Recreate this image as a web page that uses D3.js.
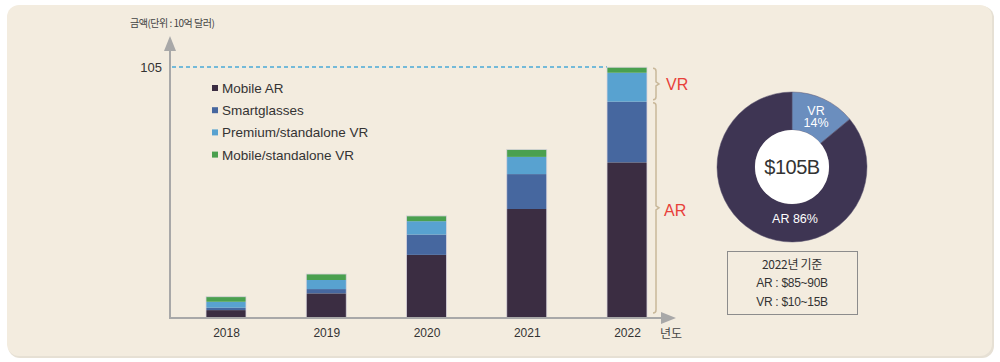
<!DOCTYPE html>
<html>
<head>
<meta charset="utf-8">
<script src="https://cdn.jsdelivr.net/npm/d3@7"></script>
<style>
  body { margin: 0; background: #ffffff; }
  text { font-family: "Liberation Sans", Arial, "Noto Sans CJK KR", sans-serif; }
  .kr { font-family: "Noto Sans CJK KR", "Liberation Sans", sans-serif; }
</style>
</head>
<body>
<div id="vis"></div>
<script>
// data (billions of dollars)
const years = ["2018", "2019", "2020", "2021", "2022"];
const mobileAR = [3.3, 10.3, 26.4, 45.6, 65.1];
const smartglasses = [1.0, 1.8, 8.5, 14.6, 25.4];
const premiumVR = [2.5, 3.8, 5.6, 7.2, 12.1];
const mobileVR = [2.1, 2.5, 2.2, 3.1, 2.3];
const seriesNames = ["Mobile AR", "Smartglasses", "Premium/standalone VR", "Mobile/standalone VR"];
const seriesColors = ["#3b2d42", "#46679f", "#58a2d0", "#4aa04f"];
const topTick = 105;

const pieLabels = ["VR", "AR"];
const pieShares = [14, 86];
const pieColors = ["#6b8ebe", "#3e3553"];
const noteLines = ["2022년 기준", "AR : $85~90B", "VR : $10~15B"];

const W = 1000, H = 362;
const svg = d3.select("#vis").append("svg").attr("width", W).attr("height", H);

// panel
svg.append("rect").attr("x", 8).attr("y", 6).attr("width", 986).attr("height", 352)
  .attr("rx", 12).attr("fill", "#e6e0d4");
svg.append("rect").attr("x", 7).attr("y", 5).attr("width", 985).attr("height", 351)
  .attr("rx", 12).attr("fill", "#f3ecdf");

const rows = years.map((y, i) => ({
  year: y,
  "Mobile AR": mobileAR[i],
  "Smartglasses": smartglasses[i],
  "Premium/standalone VR": premiumVR[i],
  "Mobile/standalone VR": mobileVR[i]
}));
const stacked = d3.stack().keys(seriesNames)(rows);

const x = d3.scalePoint().domain(years).range([226, 627]);
const y = d3.scaleLinear().domain([0, topTick]).range([318, 67]);
const color = d3.scaleOrdinal().domain(seriesNames).range(seriesColors);
const barW = 40;

// dashed guide at 105
svg.append("line")
  .attr("x1", 172).attr("x2", x("2022") - barW / 2)
  .attr("y1", y(topTick)).attr("y2", y(topTick))
  .attr("stroke", "#4aa9d8").attr("stroke-width", 1.5).attr("stroke-dasharray", "4,3");

svg.append("text").attr("x", 162).attr("y", y(topTick) + 4.5)
  .attr("text-anchor", "end").attr("font-size", 13).attr("fill", "#333").text(topTick);

// bars
svg.append("g").selectAll("g")
  .data(stacked)
  .enter().append("g")
  .attr("fill", d => color(d.key))
  .selectAll("rect")
  .data(d => d)
  .enter().append("rect")
  .attr("x", d => x(d.data.year) - barW / 2)
  .attr("y", d => y(d[1]))
  .attr("width", barW)
  .attr("height", d => y(d[0]) - y(d[1]));

// thin light outline around each bar
svg.append("g").selectAll("rect")
  .data(rows)
  .enter().append("rect")
  .attr("x", d => x(d.year) - barW / 2)
  .attr("y", d => y(d3.sum(seriesNames, k => d[k])))
  .attr("width", barW)
  .attr("height", d => y(0) - y(d3.sum(seriesNames, k => d[k])))
  .attr("fill", "none").attr("stroke", "#d9d4dc").attr("stroke-width", 0.8);

// axes with arrows
const axisColor = "#a8a8a8";
svg.append("line").attr("x1", 170).attr("x2", 170).attr("y1", y(0) + 1).attr("y2", 48)
  .attr("stroke", axisColor).attr("stroke-width", 2);
svg.append("path").attr("d", "M170,36 L164,51 L176,51 Z").attr("fill", axisColor);
svg.append("line").attr("x1", 169).attr("x2", 663).attr("y1", y(0)).attr("y2", y(0))
  .attr("stroke", axisColor).attr("stroke-width", 2);
svg.append("path").attr("d", `M676,${y(0)} L661,${y(0) - 6} L661,${y(0) + 6} Z`).attr("fill", axisColor);

svg.append("g").attr("transform", `translate(0,${y(0) + 4})`)
  .call(d3.axisBottom(x).tickSize(0).tickPadding(6))
  .call(g => g.select(".domain").remove())
  .selectAll("text").attr("font-size", 12).attr("fill", "#333")
  .style("font-family", "Liberation Sans, Arial, sans-serif");

svg.append("text").attr("class", "kr").attr("x", 660).attr("y", 338)
  .attr("font-size", 12).attr("fill", "#444").text("년도");
svg.append("text").attr("class", "kr").attr("x", 130).attr("y", 27)
  .attr("font-size", 10).attr("fill", "#444").attr("letter-spacing", -0.5).text("금액(단위 : 10억 달러)");

// legend
const legend = svg.append("g").selectAll("g")
  .data(seriesNames)
  .enter().append("g")
  .attr("transform", (d, i) => `translate(212,${88 + i * 22.2})`);
legend.append("rect").attr("x", 0).attr("y", -3).attr("width", 6).attr("height", 6)
  .attr("fill", d => color(d));
legend.append("text").attr("x", 10).attr("y", 5).attr("font-size", 13.5)
  .attr("fill", "#333").text(d => d);

// brackets AR / VR
const bx = 656;
const vrTop = y(d3.sum([mobileAR, smartglasses, premiumVR, mobileVR], s => s[4]));
const arTop = y(mobileAR[4] + smartglasses[4]);
function bracket(y0, y1) {
  const m = (y0 + y1) / 2;
  return `M${bx - 3},${y0} Q${bx},${y0} ${bx},${y0 + 3} L${bx},${m - 2} L${bx + 3},${m} L${bx},${m + 2} L${bx},${y1 - 3} Q${bx},${y1} ${bx - 3},${y1}`;
}
svg.append("path").attr("d", bracket(vrTop + 1, arTop - 2))
  .attr("fill", "none").attr("stroke", "#c9b89a").attr("stroke-width", 1.5);
svg.append("path").attr("d", bracket(arTop + 1, y(0) - 5))
  .attr("fill", "none").attr("stroke", "#c9b89a").attr("stroke-width", 1.5);
svg.append("text").attr("x", 666).attr("y", (vrTop + arTop) / 2 + 6)
  .attr("font-size", 16).attr("fill", "#e8403a").text("VR");
svg.append("text").attr("x", 664).attr("y", (arTop + y(0)) / 2 + 6)
  .attr("font-size", 16).attr("fill", "#e8403a").text("AR");

// donut
const cx = 792, cy = 167;
const pie = d3.pie().sort(null).value(d => d)(pieShares);
const arc = d3.arc().innerRadius(37).outerRadius(75);
const donut = svg.append("g").attr("transform", `translate(${cx},${cy})`);
donut.selectAll("path").data(pie).enter().append("path")
  .attr("d", arc).attr("fill", (d, i) => pieColors[i])
  .attr("stroke", "#5b5470").attr("stroke-width", 0.5);
donut.append("circle").attr("r", 37).attr("fill", "#ffffff");
donut.append("text").attr("y", 7).attr("text-anchor", "middle")
  .attr("font-size", 20).attr("fill", "#333").attr("letter-spacing", -0.5).text("$105B");

const labelArc = d3.arc().innerRadius(56).outerRadius(56);
const vrPos = labelArc.centroid(pie[0]);
donut.append("text").attr("x", 24).attr("y", -52).attr("text-anchor", "middle")
  .attr("font-size", 12.5).attr("fill", "#fff").text(pieLabels[0]);
donut.append("text").attr("x", 24).attr("y", -40).attr("text-anchor", "middle")
  .attr("font-size", 12.5).attr("fill", "#fff").text(pieShares[0] + "%");
donut.append("text").attr("x", 3).attr("y", 56).attr("text-anchor", "middle")
  .attr("font-size", 12.5).attr("fill", "#fff").text(pieLabels[1] + " " + pieShares[1] + "%");

// note box
svg.append("rect").attr("x", 727.5).attr("y", 251.5).attr("width", 130).attr("height", 63)
  .attr("fill", "none").attr("stroke", "#8c8c8c").attr("stroke-width", 1);
svg.append("g").selectAll("text").data(noteLines).enter().append("text")
  .attr("class", (d, i) => i === 0 ? "kr" : null)
  .attr("x", 792).attr("y", (d, i) => 269 + i * 18.3)
  .attr("text-anchor", "middle").attr("font-size", 12).attr("fill", "#333")
  .attr("letter-spacing", -0.3)
  .text(d => d);
</script>
</body>
</html>
